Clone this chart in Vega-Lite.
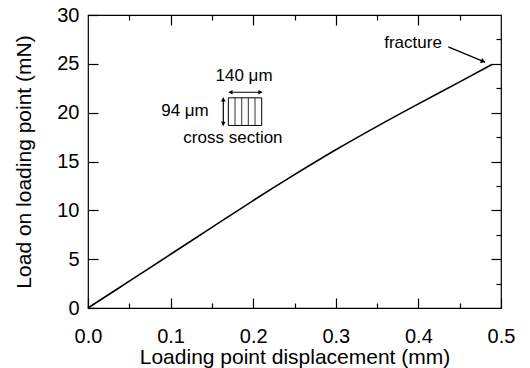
{
  "$schema": "https://vega.github.io/schema/vega-lite/v6.json",
  "width": 413,
  "height": 293,
  "autosize": {"type": "none"},
  "padding": {"left": 88, "top": 15, "right": 29, "bottom": 60},
  "background": "white",
  "config": {
    "font": "Liberation Sans",
    "view": {"stroke": "black", "strokeWidth": 1.2},
    "axis": {"domain": false, "grid": false, "ticks": true, "tickColor": "black", "tickWidth": 1.2, "labelColor": "black", "titleColor": "black", "labelFont": "Liberation Sans", "titleFont": "Liberation Sans", "titleFontWeight": "normal"}
  },
  "datasets": {
    "curve": [
      {"d": 0.0, "load": 0.0},
      {"d": 0.05, "load": 2.75},
      {"d": 0.1, "load": 5.5},
      {"d": 0.15, "load": 8.25},
      {"d": 0.2, "load": 11.0},
      {"d": 0.25, "load": 13.65},
      {"d": 0.3, "load": 16.2},
      {"d": 0.35, "load": 18.6},
      {"d": 0.4, "load": 20.9},
      {"d": 0.45, "load": 23.15},
      {"d": 0.489, "load": 24.93}
    ],
    "labels": [
      {"x": 0.1889, "y": 23.73, "label": "140 μm"},
      {"x": 0.1174, "y": 20.15, "label": "94 μm"},
      {"x": 0.1755, "y": 17.4, "label": "cross section"},
      {"x": 0.3935, "y": 27.18, "label": "fracture"}
    ],
    "rect": [{"x": 0.1699, "x2": 0.2103, "y": 21.52, "y2": 18.69}],
    "inner": [
      {"x": 0.178, "y": 21.52, "y2": 18.69},
      {"x": 0.1861, "y": 21.52, "y2": 18.69},
      {"x": 0.1941, "y": 21.52, "y2": 18.69},
      {"x": 0.2022, "y": 21.52, "y2": 18.69}
    ],
    "arrows": [
      {"x": 0.1710, "x2": 0.2103, "y": 22.09, "y2": 22.09},
      {"x": 0.1638, "x2": 0.1638, "y": 21.52, "y2": 18.69},
      {"x": 0.4362, "x2": 0.4806, "y": 26.74, "y2": 25.17}
    ],
    "headLeft": [{"x": 0.1725, "y": 22.09}],
    "headRight": [{"x": 0.2088, "y": 22.09}],
    "headUp": [{"x": 0.1638, "y": 21.35}],
    "headDown": [{"x": 0.1638, "y": 18.86}],
    "headFracture": [{"x": 0.4785, "y": 25.25}]
  },
  "layer": [
    {
      "layer": [
        {
          "data": {"name": "curve"},
          "mark": {"type": "line", "color": "black", "strokeWidth": 1.6, "interpolate": "monotone"},
          "encoding": {
            "x": {
              "field": "d", "type": "quantitative",
              "scale": {"domain": [0, 0.5], "nice": false, "zero": false},
              "axis": {
                "orient": "bottom",
                "offset": -10,
                "values": [0, 0.05, 0.1, 0.15, 0.2, 0.25, 0.3, 0.35, 0.4, 0.45, 0.5],
                "tickSize": 10,
                "tickDash": {"condition": {"test": "round(datum.value*100) % 10 == 0", "value": []}, "value": [5, 5]},
                "tickDashOffset": {"condition": {"test": "round(datum.value*100) % 10 == 0", "value": 0}, "value": 5},
                "labelExpr": "round(datum.value*100) % 10 == 0 ? format(datum.value, '.1f') : ''",
                "labelFontSize": 20,
                "labelPadding": 18,
                "labelFlush": false,
                "labelOverlap": false,
                "title": "Loading point displacement (mm)",
                "titleFontSize": 21,
                "titlePadding": 0
              }
            },
            "y": {
              "field": "load", "type": "quantitative",
              "scale": {"domain": [0, 30], "nice": false},
              "axis": {
                "orient": "left",
                "offset": -10,
                "values": [0, 2.5, 5, 7.5, 10, 12.5, 15, 17.5, 20, 22.5, 25, 27.5, 30],
                "tickSize": 10,
                "tickDash": {"condition": {"test": "datum.value % 5 == 0", "value": []}, "value": [5, 5]},
                "tickDashOffset": {"condition": {"test": "datum.value % 5 == 0", "value": 0}, "value": 5},
                "labelExpr": "datum.value % 5 == 0 ? format(datum.value, 'd') : ''",
                "labelFontSize": 20,
                "labelPadding": 9,
                "labelFlush": false,
                "labelOverlap": false,
                "title": "Load on loading point (mN)",
                "titleFontSize": 21,
                "titlePadding": 22
              }
            }
          }
        },
        {
          "data": {"name": "rect"},
          "mark": {"type": "rect", "fill": null, "fillOpacity": 0, "stroke": "black", "strokeWidth": 1},
          "encoding": {
            "x": {"field": "x", "type": "quantitative"},
            "x2": {"field": "x2"},
            "y": {"field": "y", "type": "quantitative"},
            "y2": {"field": "y2"}
          }
        },
        {
          "data": {"name": "inner"},
          "mark": {"type": "rule", "color": "black", "strokeWidth": 0.8},
          "encoding": {
            "x": {"field": "x", "type": "quantitative"},
            "y": {"field": "y", "type": "quantitative"},
            "y2": {"field": "y2"}
          }
        },
        {
          "data": {"name": "arrows"},
          "mark": {"type": "rule", "color": "black", "strokeWidth": 1.2},
          "encoding": {
            "x": {"field": "x", "type": "quantitative"},
            "x2": {"field": "x2"},
            "y": {"field": "y", "type": "quantitative"},
            "y2": {"field": "y2"}
          }
        },
        {
          "data": {"name": "headLeft"},
          "mark": {"type": "point", "shape": "triangle-left", "filled": true, "color": "black", "size": 22, "opacity": 1},
          "encoding": {"x": {"field": "x", "type": "quantitative"}, "y": {"field": "y", "type": "quantitative"}}
        },
        {
          "data": {"name": "headRight"},
          "mark": {"type": "point", "shape": "triangle-right", "filled": true, "color": "black", "size": 22, "opacity": 1},
          "encoding": {"x": {"field": "x", "type": "quantitative"}, "y": {"field": "y", "type": "quantitative"}}
        },
        {
          "data": {"name": "headUp"},
          "mark": {"type": "point", "shape": "triangle-up", "filled": true, "color": "black", "size": 22, "opacity": 1},
          "encoding": {"x": {"field": "x", "type": "quantitative"}, "y": {"field": "y", "type": "quantitative"}}
        },
        {
          "data": {"name": "headDown"},
          "mark": {"type": "point", "shape": "triangle-down", "filled": true, "color": "black", "size": 22, "opacity": 1},
          "encoding": {"x": {"field": "x", "type": "quantitative"}, "y": {"field": "y", "type": "quantitative"}}
        },
        {
          "data": {"name": "headFracture"},
          "mark": {"type": "point", "shape": "triangle-right", "angle": 23, "filled": true, "color": "black", "size": 30, "opacity": 1},
          "encoding": {"x": {"field": "x", "type": "quantitative"}, "y": {"field": "y", "type": "quantitative"}}
        },
        {
          "data": {"name": "labels"},
          "mark": {"type": "text", "font": "Liberation Sans", "fontSize": 17, "color": "black", "align": "center", "baseline": "middle"},
          "encoding": {
            "x": {"field": "x", "type": "quantitative"},
            "y": {"field": "y", "type": "quantitative"},
            "text": {"field": "label"}
          }
        }
      ]
    },
    {
      "data": {"name": "curve"},
      "mark": {"type": "line", "strokeOpacity": 0},
      "encoding": {
        "x": {
          "field": "d", "type": "quantitative",
          "scale": {"domain": [0, 0.5], "nice": false, "zero": false},
          "axis": {
            "orient": "top",
            "offset": -10,
            "values": [0.05, 0.1, 0.15, 0.2, 0.25, 0.3, 0.35, 0.4, 0.45],
            "tickSize": 10,
            "tickDash": {"condition": {"test": "round(datum.value*100) % 10 == 0", "value": []}, "value": [5, 5]},
            "tickDashOffset": {"condition": {"test": "round(datum.value*100) % 10 == 0", "value": 0}, "value": 5},
            "labels": false,
            "title": null
          }
        },
        "y": {
          "field": "load", "type": "quantitative",
          "scale": {"domain": [0, 30], "nice": false},
          "axis": {
            "orient": "right",
            "offset": -10,
            "values": [2.5, 5, 7.5, 10, 12.5, 15, 17.5, 20, 22.5, 25, 27.5],
            "tickSize": 10,
            "tickDash": {"condition": {"test": "datum.value % 5 == 0", "value": []}, "value": [5, 5]},
            "tickDashOffset": {"condition": {"test": "datum.value % 5 == 0", "value": 0}, "value": 5},
            "labels": false,
            "title": null
          }
        }
      }
    }
  ],
  "resolve": {"scale": {"x": "independent", "y": "independent"}, "axis": {"x": "independent", "y": "independent"}}
}
